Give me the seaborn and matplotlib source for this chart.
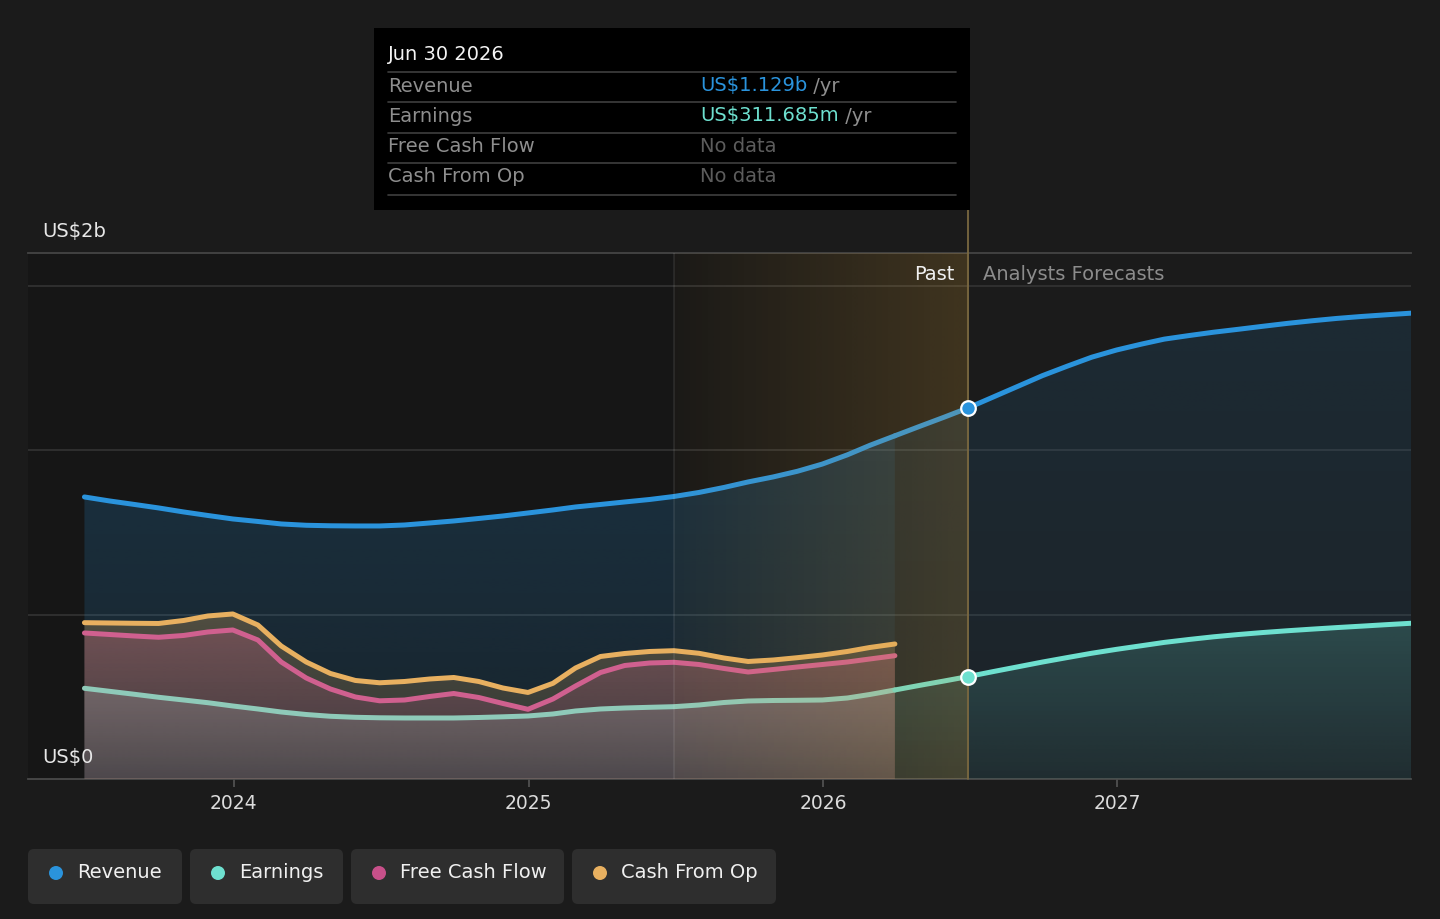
import numpy as np
import pandas as pd
import matplotlib
matplotlib.use("Agg")
import matplotlib.pyplot as plt
import matplotlib.colors as mcolors
import matplotlib.dates as mdates
from matplotlib.patches import FancyBboxPatch, Rectangle, Circle
from matplotlib.lines import Line2D
from matplotlib.text import Annotation
import seaborn as sns

# ---- data (US$ billions), month-end readings ----
past_dates = pd.date_range("2023-06-30", "2026-03-31", freq="ME")
revenue_past = [0.8579, 0.8458, 0.8351, 0.8245, 0.8123, 0.8016, 0.7910, 0.7834, 0.7758,
                0.7718, 0.7703, 0.7697, 0.7697, 0.7727, 0.7788, 0.7849, 0.7925, 0.8001,
                0.8092, 0.8184, 0.8275, 0.8351, 0.8427, 0.8503, 0.8594, 0.8716, 0.8868,
                0.9036, 0.9188, 0.9360, 0.9580, 0.9860, 1.0150, 1.0440]
earnings_past = [0.2759, 0.2668, 0.2577, 0.2486, 0.2403, 0.2321, 0.2221, 0.2130, 0.2038,
                 0.1962, 0.1908, 0.1877, 0.1862, 0.1856, 0.1856, 0.1856, 0.1871, 0.1892,
                 0.1917, 0.1978, 0.2069, 0.2130, 0.2160, 0.2181, 0.2200, 0.2251, 0.2327,
                 0.2373, 0.2388, 0.2394, 0.2403, 0.2464, 0.2571, 0.2708]
fcf_past = [0.4442, 0.4396, 0.4350, 0.4311, 0.4366, 0.4472, 0.4533, 0.4229, 0.3559,
            0.3073, 0.2738, 0.2495, 0.2379, 0.2403, 0.2510, 0.2601, 0.2479, 0.2297,
            0.2120, 0.2434, 0.2829, 0.3240, 0.3453, 0.3529, 0.3550, 0.3483, 0.3362,
            0.3255, 0.3331, 0.3407, 0.3483, 0.3559, 0.3651, 0.3751]
cfo_past = [0.4755, 0.4746, 0.4737, 0.4731, 0.4822, 0.4959, 0.5020, 0.4685, 0.4046,
            0.3559, 0.3210, 0.2997, 0.2927, 0.2966, 0.3042, 0.3088, 0.2966, 0.2768,
            0.2632, 0.2911, 0.3377, 0.3727, 0.3818, 0.3879, 0.3903, 0.3824, 0.3681,
            0.3575, 0.3620, 0.3690, 0.3772, 0.3879, 0.4001, 0.4107]

fc_dates = pd.date_range("2026-03-31", "2027-12-31", freq="ME")
revenue_fc = [1.0440, 1.0720, 1.1005, 1.1290, 1.1620, 1.1950, 1.2270, 1.2560, 1.2830,
              1.3050, 1.3230, 1.3380, 1.3490, 1.3590, 1.3680, 1.3770, 1.3860, 1.3940,
              1.4010, 1.4070, 1.4120, 1.4170]
earnings_fc = [0.2708, 0.2845, 0.2981, 0.3117, 0.3268, 0.3415, 0.3558, 0.3695, 0.3825,
               0.3945, 0.4055, 0.4155, 0.4245, 0.4325, 0.4395, 0.4455, 0.4510, 0.4560,
               0.4606, 0.4650, 0.4694, 0.4737]

today = pd.Timestamp("2026-06-30")
hover_start = pd.Timestamp("2025-06-30")
year_ticks = pd.to_datetime(["2024-01-01", "2025-01-01", "2026-01-01", "2027-01-01"])
tick_labels = ["2024", "2025", "2026", "2027"]

C_REV = "#2a93dc"
C_EARN = "#6ee0cf"
C_EARN_PAST = "#8fcab9"
C_FCF = "#d0608f"
C_CFO = "#e8b060"

W, H = 1440, 919
sns.set_style("dark")
plt.rcParams["font.family"] = ["DejaVu Sans"]

fig = plt.figure(figsize=(W / 100, H / 100), dpi=100, facecolor="#1b1b1b")
ax = fig.add_axes([28 / W, 1 - 779 / H, (1411 - 28) / W, (779 - 253) / H])
ax.set_facecolor("#1b1b1b")

XMIN = mdates.date2num(pd.Timestamp("2023-04-21"))
XMAX = mdates.date2num(pd.Timestamp("2027-12-31"))
YMAX = 1.600
T = mdates.date2num(today)
HS = mdates.date2num(hover_start)


def grad_fill(dates, y, color, a_top, a_bot, z):
    x = mdates.date2num(dates)
    y = np.asarray(y)
    poly = ax.fill_between(x, y, 0, facecolor="none", edgecolor="none")
    img = np.zeros((64, 1, 4))
    img[..., :3] = mcolors.to_rgb(color)
    img[..., 3] = np.linspace(a_top, a_bot, 64)[:, None]
    im = ax.imshow(img, aspect="auto", origin="upper", interpolation="bilinear",
                   extent=[x.min(), x.max(), 0, y.max()], zorder=z)
    im.set_clip_path(poly.get_paths()[0], ax.transData)


# background of the past section
ax.axvspan(XMIN, T, color="#161616", zorder=0, lw=0)

# grid
for g in [0.5, 1.0, 1.5]:
    ax.axhline(g, color="#343434", lw=1.2, zorder=1)

# fills: past
grad_fill(past_dates, revenue_past, C_REV, 0.21, 0.12, 2)
grad_fill(past_dates, cfo_past, C_CFO, 0.27, 0.10, 3)
grad_fill(past_dates, fcf_past, C_FCF, 0.26, 0.10, 4)
grad_fill(past_dates, earnings_past, "#8e8e8e", 0.42, 0.22, 5)
# fills: forecast
grad_fill(fc_dates, revenue_fc, C_REV, 0.13, 0.07, 2)
grad_fill(fc_dates, earnings_fc, C_EARN, 0.20, 0.06, 3)

# lines via seaborn
n, m = len(past_dates), len(fc_dates)
df_past = pd.DataFrame({
    "date": list(past_dates) * 4,
    "value": revenue_past + cfo_past + fcf_past + earnings_past,
    "series": ["Revenue"] * n + ["Cash From Op"] * n + ["Free Cash Flow"] * n + ["Earnings"] * n,
})
df_fc = pd.DataFrame({
    "date": list(fc_dates) * 2,
    "value": revenue_fc + earnings_fc,
    "series": ["Revenue"] * m + ["Earnings"] * m,
})
sns.lineplot(data=df_past, x="date", y="value", hue="series", ax=ax, legend=False,
             palette={"Revenue": C_REV, "Cash From Op": C_CFO,
                      "Free Cash Flow": C_FCF, "Earnings": C_EARN_PAST},
             lw=3.6, solid_capstyle="round", solid_joinstyle="round", zorder=6, sort=False)
sns.lineplot(data=df_fc, x="date", y="value", hue="series", ax=ax, legend=False,
             palette={"Revenue": C_REV, "Earnings": C_EARN},
             lw=3.6, solid_capstyle="round", solid_joinstyle="round", zorder=6, sort=False)

# hover highlight (gold gradient)
gold = np.zeros((1, 64, 4))
gold[..., :3] = mcolors.to_rgb("#d4a040")
gold[..., 3] = np.linspace(0.03, 0.22, 64)[None, :]
ax.imshow(gold, aspect="auto", origin="upper", interpolation="bilinear",
          extent=[HS, T, 0, YMAX], zorder=7)
ax.axvline(HS, color="white", alpha=0.09, lw=1.2, zorder=7)
ax.axvline(T, ymin=0, ymax=(779 - 210) / (779 - 253), color="#7a6840",
           lw=1.3, zorder=8, clip_on=False)

# markers at hovered date
i = list(fc_dates).index(today)
ax.plot([T], [revenue_fc[i]], "o", ms=10.5, mfc=C_REV, mec="white", mew=1.6, zorder=9)
ax.plot([T], [earnings_fc[i]], "o", ms=10.5, mfc=C_EARN, mec="white", mew=1.6, zorder=9)

ax.set_xlim(XMIN, XMAX)
ax.set_ylim(0, YMAX)
ax.set_xticks(year_ticks)
ax.set_xticklabels(tick_labels)
ax.set_yticks([])
ax.set_xlabel("")
ax.set_ylabel("")
ax.tick_params(axis="x", colors="#555555", labelcolor="#dcdcdc", labelsize=13.5,
               length=6, width=1.2, pad=4.5, bottom=True)
for s in ["left", "right"]:
    ax.spines[s].set_visible(False)
ax.spines["bottom"].set_color("#4a4a4a")
ax.spines["bottom"].set_linewidth(1.3)
ax.spines["top"].set_color("#454545")
ax.spines["top"].set_linewidth(1.3)
ax.grid(False)


def px(x, y):
    return x / W, 1 - y / H


fig.text(*px(42, 232), "US$2b", color="#e6e6e6", fontsize=14, va="center")
fig.text(*px(42, 758), "US$0", color="#e6e6e6", fontsize=14, va="center", zorder=10)
fig.text(*px(954, 274), "Past", color="#f0f0f0", fontsize=14, va="center", ha="right")
fig.text(*px(983, 274), "Analysts Forecasts", color="#8c8c8c", fontsize=14, va="center")

# tooltip
fig.add_artist(Rectangle(px(374, 210), (970 - 374) / W, (210 - 28) / H,
                         transform=fig.transFigure, facecolor="black", edgecolor="none",
                         zorder=1))
fig.text(*px(388, 55), "Jun 30 2026", color="#f4f4f4", fontsize=14, va="center")
for yy in [72, 102, 133, 163, 195]:
    fig.add_artist(Line2D([388 / W, 956 / W], [1 - yy / H] * 2, color="#3f3f3f", lw=1.2,
                          transform=fig.transFigure, zorder=2))
rows = [("Revenue", "US$1.129b", C_REV, True),
        ("Earnings", "US$311.685m", C_EARN, True),
        ("Free Cash Flow", "No data", "#5c5c5c", False),
        ("Cash From Op", "No data", "#5c5c5c", False)]
for (label, val, col, per_yr), yy in zip(rows, [86, 116, 147, 177]):
    fig.text(*px(388, yy), label, color="#8e8e8e", fontsize=14, va="center")
    t = fig.text(*px(700, yy), val, color=col, fontsize=14, va="center")
    if per_yr:
        fig.add_artist(Annotation(" /yr", xy=(1, 0.5), xycoords=t, va="center", ha="left",
                                  color="#8e8e8e", fontsize=14, zorder=3))

# legend chips
chips = [("Revenue", C_REV, 28, 182), ("Earnings", C_EARN, 190, 343),
         ("Free Cash Flow", "#c8508a", 351, 564), ("Cash From Op", C_CFO, 572, 776)]
for name, col, x0, x1 in chips:
    fig.add_artist(FancyBboxPatch((x0, H - 904), x1 - x0, 55,
                                  boxstyle="round,pad=0,rounding_size=6",
                                  transform=None, facecolor="#2e2e2e", edgecolor="none"))
    fig.add_artist(Circle((x0 + 28, H - 873), 7, transform=None, facecolor=col, edgecolor="none"))
    fig.text(*px(x0 + 49, 873), name, color="#f0f0f0", fontsize=14, va="center")

fig.savefig("out.png", dpi=100, facecolor=fig.get_facecolor())
